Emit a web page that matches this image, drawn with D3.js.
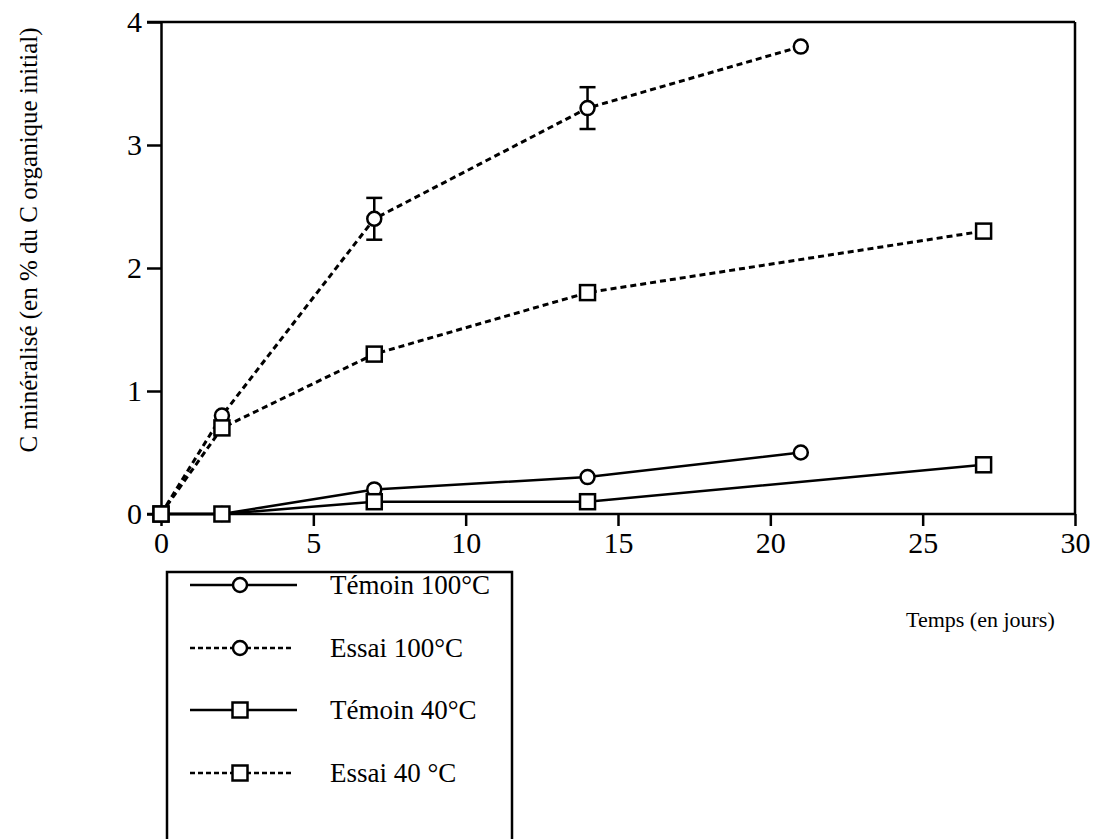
<!DOCTYPE html>
<html><head><meta charset="utf-8">
<script src="https://cdn.jsdelivr.net/npm/d3@7"></script>
<style>body{margin:0;background:#fff}svg{display:block}text{font-family:"Liberation Serif","DejaVu Serif",serif;fill:#000}</style>
</head><body>
<svg id="c" width="1103" height="839"></svg>
<script>
const temoin100 = [[0,0],[2,0],[7,0.2],[14,0.3],[21,0.5]];
const essai100 = [[0,0],[2,0.8],[7,2.4],[14,3.3],[21,3.8]];
const essai100Err = [[7,0.17],[14,0.17]];
const temoin40 = [[0,0],[2,0],[7,0.1],[14,0.1],[27,0.4]];
const essai40 = [[0,0],[2,0.7],[7,1.3],[14,1.8],[27,2.3]];
const xTicks = [0,5,10,15,20,25,30];
const yTicks = [0,1,2,3,4];
const seriesNames = ["Témoin 100°C","Essai 100°C","Témoin 40°C","Essai 40 °C"];

const svg = d3.select("#c");
const x = d3.scaleLinear().domain([0,30]).range([161,1075]);
const y = d3.scaleLinear().domain([0,4]).range([514,22]);

// frame top & right
svg.append("line").attr("x1",147).attr("x2",1075).attr("y1",y(4)).attr("y2",y(4)).attr("stroke","#000").attr("stroke-width",2.5);
svg.append("line").attr("x1",1075).attr("x2",1075).attr("y1",y(4)).attr("y2",y(0)).attr("stroke","#000").attr("stroke-width",2.5);

const xa = svg.append("g").attr("transform",`translate(0,${y(0)})`)
  .call(d3.axisBottom(x).tickValues(xTicks).tickFormat(d3.format("d")).tickSize(12).tickPadding(6).tickSizeOuter(0));
const ya = svg.append("g").attr("transform",`translate(${x(0)},0)`)
  .call(d3.axisLeft(y).tickValues(yTicks).tickFormat(d3.format("d")).tickSize(14).tickPadding(5).tickSizeOuter(0));
[xa,ya].forEach(a=>{
  a.attr("font-size",null).attr("font-family",null);
  a.select(".domain").attr("stroke-width",2.5);
  a.selectAll(".tick line").attr("stroke-width",2.5);
  a.selectAll(".tick text").style("font-size","30px");
});
xa.select(".domain").attr("d",`M147,0H1075`);

const line = d3.line().x(d=>x(d[0])).y(d=>y(d[1]));
const dash = "6,4";
const series = [
  {data:temoin100, dashed:false, m:"circle"},
  {data:essai100, dashed:true, m:"circle"},
  {data:temoin40, dashed:false, m:"square"},
  {data:essai40, dashed:true, m:"square"}
];
series.forEach(s=>{
  svg.append("path").attr("d",line(s.data)).attr("fill","none").attr("stroke","#000")
    .attr("stroke-width",s.dashed?3:2.5).attr("stroke-dasharray",s.dashed?dash:null);
});
// error bars
essai100Err.forEach(([d,e])=>{
  const v = essai100.find(p=>p[0]===d)[1];
  const g = svg.append("g").attr("stroke","#000").attr("stroke-width",2.5);
  g.append("line").attr("x1",x(d)).attr("x2",x(d)).attr("y1",y(v+e)).attr("y2",y(v-e));
  g.append("line").attr("x1",x(d)-8).attr("x2",x(d)+8).attr("y1",y(v+e)).attr("y2",y(v+e));
  g.append("line").attr("x1",x(d)-8).attr("x2",x(d)+8).attr("y1",y(v-e)).attr("y2",y(v-e));
});
function marker(g,type,cx,cy){
  if(type==="circle") g.append("circle").attr("cx",cx).attr("cy",cy).attr("r",7).attr("fill","#fff").attr("stroke","#000").attr("stroke-width",2.5);
  else g.append("rect").attr("x",cx-7.5).attr("y",cy-7.5).attr("width",15).attr("height",15).attr("fill","#fff").attr("stroke","#000").attr("stroke-width",2.5);
}
series.forEach(s=>{
  const g = svg.append("g");
  s.data.forEach(p=>marker(g,s.m,x(p[0]),y(p[1])));
});

// legend
svg.append("rect").attr("x",167).attr("y",572).attr("width",345).attr("height",290).attr("fill","none").attr("stroke","#000").attr("stroke-width",2.5);
const ly = [585,648,710,773];
series.forEach((s,i)=>{
  svg.append("line").attr("x1",190).attr("x2",s.dashed?294:297).attr("y1",ly[i]).attr("y2",ly[i]).attr("stroke","#000")
    .attr("stroke-width",2.5).attr("stroke-dasharray",s.dashed?"5,3":null);
  marker(svg,s.m,240,ly[i]);
  svg.append("text").attr("x",330).attr("y",ly[i]+9).style("font-size","27px").text(seriesNames[i]);
});

svg.append("text").attr("x",906).attr("y",627).style("font-size","22px").text("Temps (en jours)");
svg.append("text").attr("transform","translate(37,240) rotate(-90)").attr("text-anchor","middle").style("font-size","25px").text("C minéralisé (en % du C organique initial)");
</script>
</body></html>
